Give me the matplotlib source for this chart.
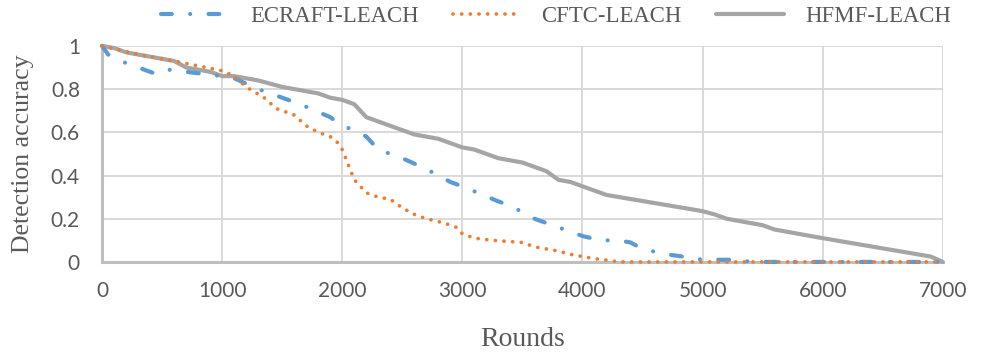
import matplotlib
matplotlib.use("Agg")
import matplotlib.pyplot as plt

# ---- data ----
ecraft_x = [0, 50, 200, 450, 550, 700, 1000, 1100, 1300, 1500, 1650, 1900, 2000, 2100, 2200,
            2300, 2500, 2700, 2900, 3000, 3300, 3400, 3500, 3600, 3750, 4000, 4150, 4300, 4400,
            4500, 4700, 4900, 5000, 5150, 5300, 5400, 7000]
ecraft_y = [1.0, 0.96, 0.92, 0.87, 0.89, 0.88, 0.86, 0.85, 0.80, 0.76, 0.73, 0.67, 0.63, 0.61, 0.58,
            0.52, 0.48, 0.43, 0.37, 0.35, 0.28, 0.26, 0.23, 0.20, 0.17, 0.12, 0.10, 0.10, 0.09,
            0.06, 0.035, 0.02, 0.01, 0.01, 0.01, 0.0, 0.0]

cftc_x = [0, 300, 600, 1000, 1100, 1200, 1350, 1450, 1600, 1700, 1800, 1900, 1950, 2000, 2050,
          2100, 2150, 2200, 2300, 2400, 2500, 2600, 2700, 2850, 2950, 3000, 3100, 3250, 3500,
          3600, 3800, 3900, 4000, 4100, 4250, 4300, 7000]
cftc_y = [1.0, 0.96, 0.93, 0.885, 0.86, 0.81, 0.76, 0.71, 0.68, 0.63, 0.60, 0.58, 0.56, 0.52, 0.45,
          0.38, 0.35, 0.32, 0.30, 0.29, 0.25, 0.22, 0.20, 0.18, 0.16, 0.13, 0.11, 0.10, 0.09,
          0.07, 0.05, 0.035, 0.025, 0.015, 0.005, 0.0, 0.0]

hfmf_x = [0, 100, 200, 500, 600, 700, 900, 1000, 1100, 1300, 1500, 1700, 1800, 1900, 2000, 2100,
          2200, 2400, 2600, 2800, 3000, 3100, 3300, 3500, 3700, 3800, 3900, 4000, 4200, 5000,
          5100, 5200, 5500, 5600, 6000, 6900, 7000]
hfmf_y = [1.0, 0.99, 0.97, 0.94, 0.93, 0.90, 0.88, 0.86, 0.86, 0.84, 0.81, 0.79, 0.78, 0.76, 0.75, 0.73,
          0.67, 0.63, 0.59, 0.57, 0.53, 0.52, 0.48, 0.46, 0.42, 0.38, 0.37, 0.35, 0.31, 0.235,
          0.22, 0.20, 0.17, 0.15, 0.11, 0.025, 0.0]

series_names = ["ECRAFT-LEACH", "CFTC-LEACH", "HFMF-LEACH"]
x_ticks = [0, 1000, 2000, 3000, 4000, 5000, 6000, 7000]
y_ticks = [0, 0.2, 0.4, 0.6, 0.8, 1.0]
y_tick_labels = ["0", "0.2", "0.4", "0.6", "0.8", "1"]

# ---- figure ----
fig = plt.figure(figsize=(9.82, 3.53), dpi=100)
ax = fig.add_axes([0.104, 0.258, 0.856, 0.612])

text_col = "#595959"
grid_col = "#D9D9D9"

l1, = ax.plot(ecraft_x, ecraft_y, color="#5B9BD5", lw=3.0,
              linestyle=(0, (2.6, 4.4, 0.01, 4.4)), dash_capstyle="round", clip_on=False, zorder=3)
l2, = ax.plot(cftc_x, cftc_y, color="#ED7D31", lw=2.7,
              linestyle=(0, (0.01, 2.3)), dash_capstyle="round", clip_on=False, zorder=4)
l3, = ax.plot(hfmf_x, hfmf_y, color="#A5A5A5", lw=3, solid_capstyle="round",
              solid_joinstyle="round", clip_on=False, zorder=2)

ax.set_xlim(0, 7000)
ax.set_ylim(0, 1)
ax.set_xticks(x_ticks)
ax.set_yticks(y_ticks)
ax.set_yticklabels(y_tick_labels)
ax.grid(True, color=grid_col, lw=1.4)
ax.set_axisbelow(True)

for s in ["top", "right"]:
    ax.spines[s].set_visible(False)
for s in ["left", "bottom"]:
    ax.spines[s].set_color("#BFBFBF")
    ax.spines[s].set_linewidth(2.2)
    ax.spines[s].set_zorder(1)

ax.tick_params(length=0, colors=text_col, labelsize=15)
ax.tick_params(axis="x", pad=14)
ax.tick_params(axis="y", pad=16)
for lab in ax.get_xticklabels() + ax.get_yticklabels():
    lab.set_family("Lato")

ax.set_xlabel("Rounds", family="Liberation Serif", fontsize=20, color=text_col)
ax.set_ylabel("Detection accuracy", family="Liberation Serif", fontsize=18.5, color=text_col)
ax.xaxis.set_label_coords(0.5, -0.30)
ax.xaxis.label.set_va("top")
ax.yaxis.set_label_coords(-0.094, 0.5)
ax.yaxis.label.set_va("center")

leg = fig.legend([l1, l2, l3], series_names, loc="center", bbox_to_anchor=(0.566, 0.952),
                 ncol=3, frameon=False, handlelength=3.0, handletextpad=0.9, columnspacing=1.5,
                 prop={"family": "Liberation Serif", "size": 16.4})
for t in leg.get_texts():
    t.set_color(text_col)

fig.savefig("out.png", dpi=100)
